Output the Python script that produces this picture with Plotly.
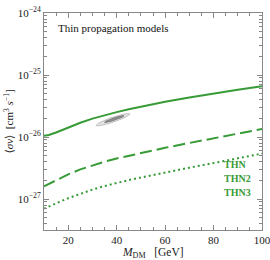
import numpy as np
import plotly.graph_objects as go

# Data
mass = [10, 12, 15, 20, 25, 30, 35, 40, 45, 50, 60, 70, 80, 90, 100]
thn = [1.05e-26, 1.08e-26, 1.18e-26, 1.42e-26, 1.7e-26, 1.98e-26, 2.25e-26, 2.52e-26, 2.8e-26, 3.08e-26, 3.7e-26, 4.35e-26, 5.05e-26, 5.8e-26, 6.6e-26]
thn2 = [1.6e-27, 1.75e-27, 2.0e-27, 2.5e-27, 3.0e-27, 3.5e-27, 4.0e-27, 4.5e-27, 5.0e-27, 5.5e-27, 6.7e-27, 8.0e-27, 9.6e-27, 1.15e-26, 1.35e-26]
thn3 = [7.0e-28, 7.5e-28, 8.5e-28, 1.03e-27, 1.22e-27, 1.42e-27, 1.62e-27, 1.82e-27, 2.02e-27, 2.22e-27, 2.7e-27, 3.2e-27, 3.8e-27, 4.55e-27, 5.4e-27]
series_names = ["THN", "THN2", "THN3"]
dashes = ["solid", "12px,5px", "2px,3px"]

# fit-region contours: (center mass, center log10 sv, half-width mass, half-height log, tilt)
contour_outer = (38.5, -25.72, 7.0, 0.042, 0.013)
contour_inner = (39.0, -25.71, 4.0, 0.02, 0.013)

x_ticks = [20, 40, 60, 80, 100]
y_exps = [-27, -26, -25, -24]

green = "#379b37"
font_fam = "Liberation Serif, DejaVu Serif, serif"

fig = go.Figure()

def ellipse(c):
    cm, cl, a, b, slope = c
    t = np.linspace(0, 2 * np.pi, 80)
    dm = a * np.cos(t)
    dl = b * np.sin(t) + slope * dm
    return cm + dm, 10 ** (cl + dl)

ex, ey = ellipse(contour_outer)
fig.add_trace(go.Scatter(x=ex, y=ey, fill="toself", mode="lines",
                         line=dict(color="#b5b5b5", width=0.8), fillcolor="#e3e3e3",
                         showlegend=False, hoverinfo="skip"))
ex, ey = ellipse(contour_inner)
fig.add_trace(go.Scatter(x=ex, y=ey, fill="toself", mode="lines",
                         line=dict(color="#707070", width=0.8), fillcolor="#949494",
                         showlegend=False, hoverinfo="skip"))

for ys, nm, d in zip([thn, thn2, thn3], series_names, dashes):
    fig.add_trace(go.Scatter(x=mass, y=ys, mode="lines", name=nm,
                             line=dict(color=green, width=2, dash=d),
                             showlegend=False))

minor_y = []
for e in range(-28, -24):
    for k in range(2, 10):
        minor_y.append(k * 10.0 ** e)

axis_common = dict(showline=True, linecolor="#888888", linewidth=1, mirror="ticks",
                   ticks="inside", tickcolor="#888888", ticklen=5, showgrid=False,
                   zeroline=False, automargin=False, ticklabeloverflow="allow",
                   tickfont=dict(family=font_fam, size=11, color="#222222"))

fig.update_xaxes(range=[10, 100], tickvals=x_ticks, ticktext=[str(v) for v in x_ticks],
                 minor=dict(ticks="inside", dtick=5, tick0=0, ticklen=3, tickcolor="#888888"),
                 **axis_common)
fig.update_yaxes(type="log", range=[-27.5, -24],
                 tickvals=[10.0 ** e for e in y_exps],
                 ticktext=["10<sup>\u2212%d</sup>" % (-e) for e in y_exps],
                 minor=dict(ticks="inside", tickvals=minor_y, ticklen=3, tickcolor="#888888"),
                 **axis_common)

fig.add_annotation(x=0.5, y=-0.069, xref="paper", yref="paper", xanchor="center", yanchor="top",
                   text="<i>M</i><sub>DM</sub>   [GeV]", showarrow=False, borderpad=0,
                   font=dict(family=font_fam, size=11.5, color="#222222"))
fig.add_annotation(x=-0.165, y=0.5, xref="paper", yref="paper", xanchor="center", yanchor="middle",
                   textangle=-90,
                   text="\u27e8<i>\u03c3v</i>\u27e9  [cm<sup>3</sup> <i>s</i><sup>\u22121</sup>]",
                   showarrow=False, font=dict(family=font_fam, size=11, color="#222222"))

fig.add_annotation(x=0.055, y=0.93, xref="paper", yref="paper", xanchor="left", yanchor="middle",
                   text="Thin propagation models", showarrow=False,
                   font=dict(family=font_fam, size=11, color="#111111"))
for i, nm in enumerate(series_names):
    fig.add_annotation(x=0.815, y=0.30 - i * 0.064, xref="paper", yref="paper",
                       xanchor="left", yanchor="middle", text="<b>%s</b>" % nm, showarrow=False,
                       font=dict(family=font_fam, size=10, color=green))

fig.update_layout(width=270, height=260, margin=dict(l=44, r=8, t=13, b=30),
                  plot_bgcolor="white", paper_bgcolor="white", showlegend=False)

fig.write_html("out.html", config={"displayModeBar": False},
               post_script="document.body.style.margin='0';")
